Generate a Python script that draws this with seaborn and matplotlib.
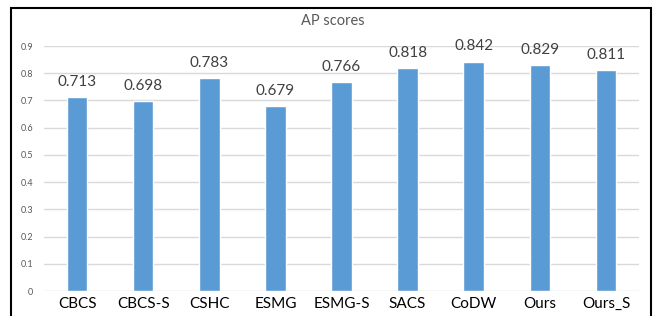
import matplotlib
matplotlib.use("Agg")
import matplotlib.pyplot as plt
import matplotlib.patches as patches
import seaborn as sns
import pandas as pd

# datos del grafico
methods = ["CBCS", "CBCS-S", "CSHC", "ESMG", "ESMG-S", "SACS", "CoDW", "Ours", "Ours_S"]
ap_scores = [0.713, 0.698, 0.783, 0.679, 0.766, 0.818, 0.842, 0.829, 0.811]
y_ticks = [0, 0.1, 0.2, 0.3, 0.4, 0.5, 0.6, 0.7, 0.8, 0.9]

df = pd.DataFrame({"method": methods, "ap": ap_scores})

sns.set_style("white")
plt.rcParams["font.family"] = ["Lato", "DejaVu Sans"]

fig = plt.figure(figsize=(6.53, 3.16), dpi=100)
ax = fig.add_axes([0.0674, 0.0791, 0.9112, 0.7753])

sns.barplot(data=df, x="method", y="ap", color="#5B9BD5", width=0.31,
            saturation=1, ax=ax)

# etiquetas de valores
ax.bar_label(ax.containers[0], labels=[f"{v:.3f}" for v in ap_scores],
             padding=6, fontsize=11, color="#404040")

ax.set_xlim(-0.5, len(methods) - 0.5)
ax.set_ylim(0, 0.9)
ax.set_yticks(y_ticks)
ax.set_yticklabels([f"{t:g}" for t in y_ticks], fontsize=6.5, color="#595959")
ax.yaxis.grid(True, color="#D9D9D9", linewidth=1)
ax.set_axisbelow(True)
ax.tick_params(axis="x", labelsize=11, colors="black", length=0, pad=4)
ax.tick_params(axis="y", length=0, pad=8)
ax.set_xlabel("")
ax.set_ylabel("")
for s in ax.spines.values():
    s.set_visible(False)

fig.text(0.509, 0.935, "AP scores", ha="center", va="center", fontsize=10.5, color="#595959")

# marco negro exterior
fig.patches.append(patches.Rectangle((0.017, -0.02), 0.98, 0.995, transform=fig.transFigure,
                                     fill=False, edgecolor="black", linewidth=1.5))

fig.savefig("out.png", dpi=100)
